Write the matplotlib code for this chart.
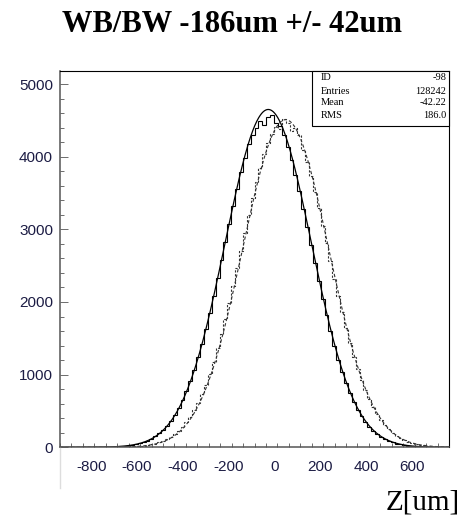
import numpy as np
import matplotlib
matplotlib.use('Agg')
import matplotlib.pyplot as plt
from matplotlib.ticker import MultipleLocator
from matplotlib.transforms import ScaledTranslation
from matplotlib.lines import Line2D

plt.rcParams['axes.unicode_minus'] = False

# histogram binning: 100 bins from -950 to 750 um
x_lo, x_hi, n_bins = -950, 750, 100

# counts per bin (solid histogram)
solid_counts = [
    0, 0, 0, 0, 0, 0, 0, 0, 1, 2,
    2, 4, 5, 7, 9, 13, 17, 24, 32, 42,
    55, 71, 92, 119, 151, 190, 238, 295, 364, 443,
    537, 645, 770, 909, 1066, 1239, 1428, 1634, 1852, 2086,
    2326, 2576, 2826, 3077, 3324, 3561, 3784, 3987, 4168, 4300,
    4390, 4490, 4430, 4550, 4580, 4470, 4420, 4297, 4138, 3954,
    3746, 3521, 3281, 3035, 2785, 2532, 2284, 2044, 1815, 1597,
    1394, 1208, 1038, 885, 747, 626, 520, 429, 351, 285,
    229, 183, 145, 114, 88, 68, 52, 40, 30, 22,
    17, 12, 9, 6, 5, 3, 2, 2, 1, 1,
]

# dashed histogram
dashed_counts = [
    0, 0, 0, 0, 0, 0, 0, 0, 0, 0,
    0, 0, 1, 2, 2, 3, 5, 7, 9, 12,
    17, 22, 30, 40, 52, 68, 88, 112, 143, 180,
    225, 280, 344, 421, 510, 612, 731, 864, 1013, 1179,
    1360, 1557, 1768, 1992, 2222, 2463, 2708, 2952, 3194, 3427,
    3648, 3851, 4033, 4190, 4317, 4413, 4380, 4520, 4470, 4360,
    4400, 4300, 4099, 3927, 3731, 3517, 3291, 3052, 2808, 2563,
    2320, 2084, 1856, 1640, 1437, 1249, 1077, 922, 782, 658,
    549, 455, 374, 304, 246, 197, 157, 124, 97, 75,
    58, 44, 33, 25, 19, 14, 10, 7, 5, 4,
]

# gaussian fit parameters (constant, mean, sigma)
solid_fit = (4650, -40, 188)
dashed_fit = (4510, 36, 188)

stat_names = ['ID', 'Entries', 'Mean', 'RMS']
stat_values = ['-98', '128242', '-42.22', '186.0']

title = 'WB/BW -186um +/- 42um'
xlabel = 'Z[um]'
xticks = [-800, -600, -400, -200, 0, 200, 400, 600]
yticks = [0, 1000, 2000, 3000, 4000, 5000]

edges = np.linspace(x_lo, x_hi, n_bins + 1)

fig = plt.figure(figsize=(4.67, 5.18), dpi=100)
ax = fig.add_axes([0.1285, 0.1365, 0.833, 0.7265])

ink = '#1c1c44'
ax.stairs(solid_counts, edges, color='black', lw=0.8)
ax.stairs(dashed_counts, edges, color='#333333', lw=0.8, linestyle=(0, (2, 1.5)))

xf = np.linspace(x_lo, x_hi, 800)
a, m, s = solid_fit
ax.plot(xf, a * np.exp(-0.5 * ((xf - m) / s) ** 2), color='black', lw=0.9)
a, m, s = dashed_fit
ax.plot(xf, a * np.exp(-0.5 * ((xf - m) / s) ** 2), color='#333333', lw=0.8,
        linestyle=(0, (3, 2)))

ax.set_xlim(x_lo, x_hi)
ax.set_ylim(0, 5180)

ax.set_xticks(xticks)
ax.set_yticks(yticks)
ax.xaxis.set_minor_locator(MultipleLocator(50))
ax.yaxis.set_minor_locator(MultipleLocator(200))
ax.tick_params(axis='x', which='both', direction='in', length=3, width=0.6,
               color='#555555', labelsize=11, labelcolor=ink, pad=9)
ax.tick_params(axis='y', which='major', direction='in', length=6, width=0.6,
               color='#555555', labelsize=11, labelcolor=ink, pad=5)
ax.tick_params(axis='y', which='minor', direction='in', length=3, width=0.6,
               color='#555555')
for lab in ax.get_xticklabels() + ax.get_yticklabels():
    lab.set_fontfamily('Liberation Sans')
# x labels sit a little left of their ticks in the original
shift = ScaledTranslation(-3 / 100, 0, fig.dpi_scale_trans)
for lab in ax.get_xticklabels():
    lab.set_transform(lab.get_transform() + shift)

for side in ['top', 'right']:
    ax.spines[side].set_linewidth(0.8)
    ax.spines[side].set_color('black')
for side in ['left', 'bottom']:
    ax.spines[side].set_linewidth(1.1)
    ax.spines[side].set_color('#555555')

# stats box in the upper right corner
bx0, by0 = 312 / 467, 1 - 126 / 518
bx1, by1 = 449 / 467, 1 - 71 / 518
fig.patches.append(plt.Rectangle((bx0, by0), bx1 - bx0, by1 - by0,
                                 transform=fig.transFigure, fill=True,
                                 facecolor='white', edgecolor='black', lw=0.8,
                                 zorder=5))
row_y = [78, 91, 103, 116]
for name, val, yy in zip(stat_names, stat_values, row_y):
    fig.text(321 / 467, 1 - yy / 518, name, fontsize=7.5,
             family='Liberation Serif', va='center', ha='left', zorder=6)
    fig.text(446 / 467, 1 - yy / 518, val, fontsize=7.5,
             family='Liberation Serif', va='center', ha='right', zorder=6)

fig.text(232 / 467, 1 - 24 / 518, title, fontsize=22, fontweight='bold',
         family='Liberation Serif', ha='center', va='center')
fig.text(460 / 467, 1 - 502 / 518, xlabel, fontsize=21,
         family='Liberation Serif', ha='right', va='center')

# faint guide line under the left axis
fig.add_artist(Line2D([60 / 467, 60 / 467], [1 - 448 / 518, 1 - 488 / 518],
                      transform=fig.transFigure, color='#dddddd', lw=1))

fig.savefig('out.png', dpi=100)
